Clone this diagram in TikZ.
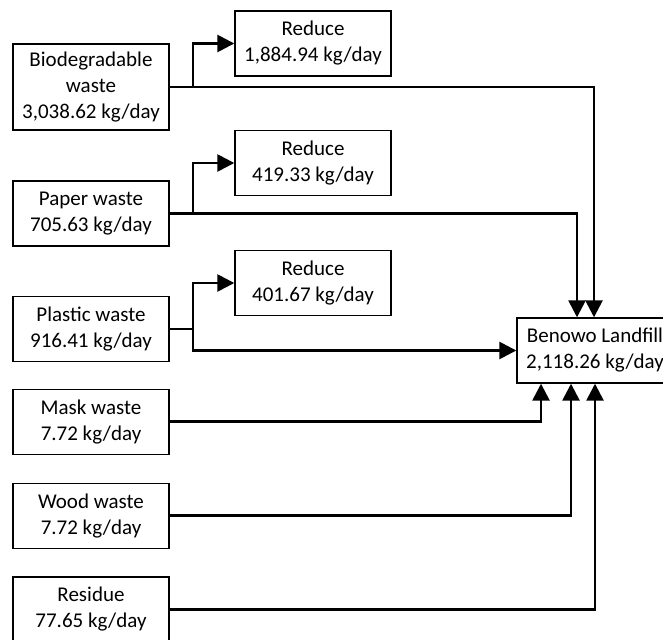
\documentclass[tikz,border=0pt]{standalone}
\usepackage{fontspec}
\setmainfont{Carlito}
\usetikzlibrary{arrows.meta}
\begin{document}
\begin{tikzpicture}[x=1pt,y=-1pt,
  box/.style={draw=black, line width=1.4pt, fill=white, align=center, inner sep=0pt,
    minimum width=156pt, minimum height=65pt, font=\fontsize{21}{26}\selectfont},
  tallbox/.style={box, minimum height=86pt},
  flow/.style={line width=2.6pt, -{Triangle[length=17pt,width=17pt]}},
  plain/.style={line width=2.6pt}]
\clip (0,0) rectangle (663,639);
\fill[white] (0,0) rectangle (663,639);
% nodes
\node[tallbox] (bio) at (91,87) {Biodegradable\\waste\\3,038.62 kg/day};
\node[box] (red1) at (313,43.5) {Reduce\\1,884.94 kg/day};
\node[box] (paper) at (91,213.5) {Paper waste\\705.63 kg/day};
\node[box] (red2) at (313,163) {Reduce\\419.33 kg/day};
\node[box] (red3) at (313,283) {Reduce\\401.67 kg/day};
\node[box] (plastic) at (91,329) {Plastic waste\\916.41 kg/day};
\node[box] (land) at (595,350.5) {Benowo Landfill\\2,118.26 kg/day};
\node[box] (mask) at (91,421.7) {Mask waste\\7.72 kg/day};
\node[box] (wood) at (91,515.7) {Wood waste\\7.72 kg/day};
\node[box] (res) at (91,609.5) {Residue\\77.65 kg/day};
% branch coordinates
\coordinate (bb) at (193,87);
\coordinate (pb) at (193,213.5);
\coordinate (lb) at (193,329);
% connectors
\draw[flow] (bio.east) -- (bb) |- (red1.west);
\draw[flow] (bio.east) -| ([xshift=-1pt]land.north);
\draw[flow] (paper.east) -- (pb) |- (red2.west);
\draw[flow] (paper.east) -| ([xshift=-18pt]land.north);
\draw[flow] (plastic.east) -- (lb) |- (red3.west);
\draw[flow] (lb) |- (land.west);
\draw[flow] (mask.east) -| ([xshift=-54pt]land.south);
\draw[flow] (wood.east) -| ([xshift=-24pt]land.south);
\draw[flow] (res.east) -| ([xshift=0pt]land.south);
\end{tikzpicture}
\end{document}
